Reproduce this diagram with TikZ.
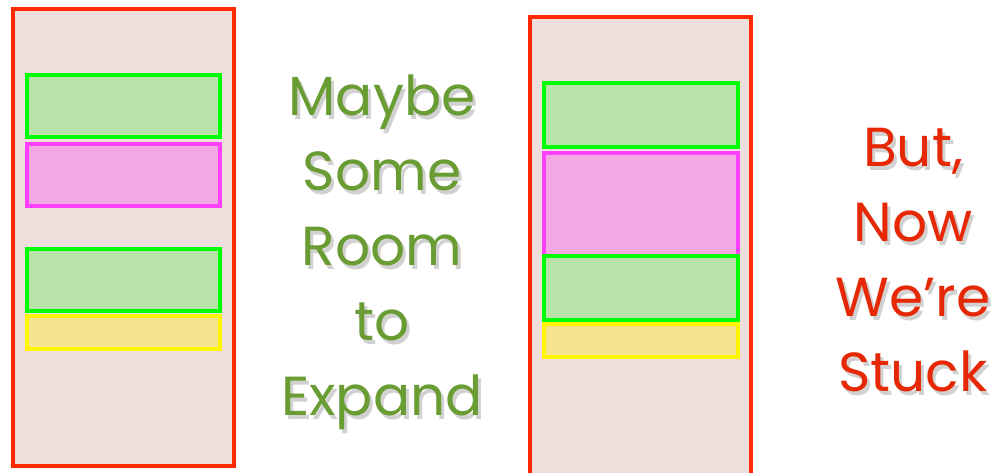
\documentclass[tikz,border=0pt]{standalone}
\usepackage{fontspec}
\setmainfont{Poppins}
\usetikzlibrary{positioning}
\definecolor{StackRed}{RGB}{255,40,0}
\definecolor{StackFill}{RGB}{239,222,220}
\definecolor{BlockGreen}{RGB}{0,255,0}
\definecolor{BlockGreenFill}{RGB}{186,227,170}
\definecolor{BlockPink}{RGB}{255,64,255}
\definecolor{BlockPinkFill}{RGB}{242,168,228}
\definecolor{BlockYellow}{RGB}{255,245,0}
\definecolor{BlockYellowFill}{RGB}{244,228,144}
\definecolor{NoteGreen}{RGB}{106,156,52}
\definecolor{NoteRed}{RGB}{230,40,5}

\begin{document}
\begin{tikzpicture}[x=1pt,y=-1pt,line width=4pt,
    stack/.style={draw=StackRed,fill=StackFill},
    green block/.style={draw=BlockGreen,fill=BlockGreenFill},
    pink block/.style={draw=BlockPink,fill=BlockPinkFill},
    yellow block/.style={draw=BlockYellow,fill=BlockYellowFill},
    note/.style={align=center,font=\fontsize{55}{75}\selectfont},
    shade/.style={note,text=black,opacity=0.18}]
  \useasboundingbox (0,0) rectangle (997,472);
  % before
  \draw[stack] (13,9) rectangle (233.5,466);
  \draw[green block] (27,75) rectangle (220,137);
  \draw[pink block] (27,144) rectangle (220,206);
  \draw[green block] (27,249) rectangle (220,311);
  \draw[yellow block] (27,316) rectangle (220,349);
  % after
  \draw[stack] (530,17) rectangle (751,480);
  \draw[green block] (544,83) rectangle (738,147);
  \draw[pink block] (544,153) rectangle (738,256);
  \draw[green block] (544,256) rectangle (738,320);
  \draw[yellow block] (544,324) rectangle (738,357);
  % notes, with a soft drop shadow
  \node[shade] at (385,256) {Maybe\\Some\\Room\\to\\Expand};
  \node[note,text=NoteGreen] (room) at (382,252) {Maybe\\Some\\Room\\to\\Expand};
  \node[shade] at (916,264) {But,\\Now\\We’re\\Stuck};
  \node[note,text=NoteRed] (stuck) at (913,260) {But,\\Now\\We’re\\Stuck};
\end{tikzpicture}
\end{document}
